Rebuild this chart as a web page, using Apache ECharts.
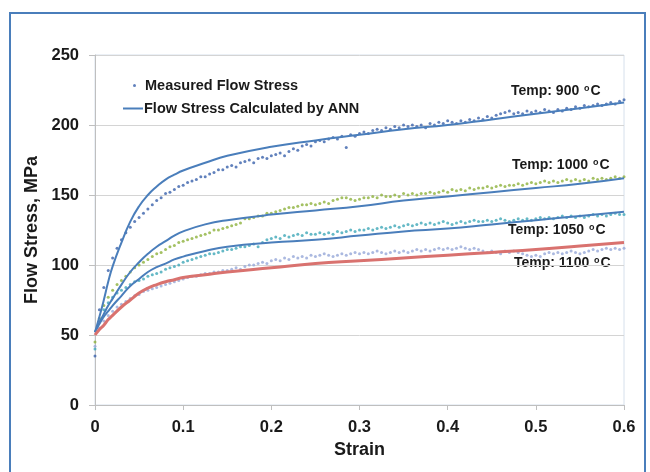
<!DOCTYPE html>
<html lang="en">
<head>
    <meta charset="UTF-8">
    <title>Flow Stress</title>
    <script src="https://cdn.jsdelivr.net/npm/echarts@6/dist/echarts.min.js"></script>
    <style>
        html, body { margin: 0; padding: 0; background: #fff; }
        #main { width: 650px; height: 472px; }
    </style>
</head>
<body>
<div id="main"></div>
<script>
    // measured points are sampled every 0.005 strain, from 0 to 0.6
    var measStep = 0.005;
    var meas900 = [35,68,84,96,105,112,118,123,127,131,134,137,140,143,146,148,151,152,154,156,
        157,159,160,161,163,163,165,166,168,168,170,171,170,173,174,175,173,176,177,176,
        178,179,180,178,181,183,182,185,186,185,188,189,188,190,191,190,192,184,193,192,
        194,195,194,196,197,196,198,197,199,198,200,199,200,199,200,198,201,200,202,201,
        203,202,201,203,202,204,203,205,204,206,205,207,208,209,210,208,209,208,210,209,
        210,209,211,210,209,211,210,212,211,213,212,214,213,214,215,214,215,216,215,217,218];
    var meas1000 = [45,62,71,77,82,86,89,92,95,98,100,102,104,106,108,109,111,113,114,116,
        117,118,119,120,121,122,123,125,125,126,127,128,129,130,133,133,134,135,135,137,
        137,138,139,140,141,141,142,143,143,144,143,144,145,144,146,147,148,148,147,146,
        147,148,148,149,148,150,149,149,150,149,151,150,151,150,151,151,152,151,152,153,
        152,154,153,154,153,155,154,155,155,156,155,156,157,156,157,157,158,157,158,159,
        158,159,160,159,160,159,160,161,160,161,160,161,160,162,161,162,161,162,163,162,163];
    var meas1050 = [40,60,68,73,77,80,82,84,86,88,89,90,92,93,94,95,97,98,99,100,
        102,103,104,105,106,107,108,108,109,110,111,111,112,113,113,114,115,113,116,118,
        119,120,119,121,120,121,122,121,123,122,122,123,122,123,122,124,123,124,125,124,
        125,125,126,125,126,127,126,127,128,127,128,129,128,129,130,129,130,129,130,131,
        130,129,130,131,130,131,132,131,131,132,131,132,133,132,131,132,133,132,133,132,
        133,134,133,134,133,134,135,134,135,134,135,134,135,136,135,136,135,136,137,136,136];
    var meas1100 = [42,55,60,64,67,70,72,74,76,78,79,81,82,83,84,85,86,87,88,89,
        90,91,92,92,93,94,94,95,95,96,96,97,98,97,99,100,100,101,102,101,
        103,104,103,105,104,106,105,106,105,107,106,107,108,107,106,107,108,107,108,109,
        108,109,108,109,110,109,108,109,110,109,110,109,110,111,110,111,110,111,112,111,
        112,111,112,113,112,111,112,111,110,109,110,109,108,110,109,110,109,108,107,106,
        107,106,108,109,108,109,108,109,110,109,108,109,110,111,110,111,112,111,112,111,112];

    // ANN curves
    var annStrain = [0,0.005,0.01,0.015,0.02,0.03,0.04,0.05,0.06,0.07,0.08,0.09,0.1,0.125,0.15,0.2,0.25,0.3,0.35,0.4,0.45,0.5,0.55,0.6];
    var ann900  = [52,63,75,88,99,116,131,142,150,156,161,164.5,167.5,173,178,184.5,189,193,197,200,204,208,212,216];
    var ann1000 = [52,59,65,71,76,86,95,102,108,113,117,121,124,129,132,136,139,142,146,149,152,155,158,162];
    var ann1050 = [52,58,63,67,71,78,85,90,95,98.5,101,104,106,110,113,116,118,121,124,126,129,132,135,138];
    var ann1100 = [50,54,57,61,64,70,75,80,83.5,86,88,89.5,91,93,95,98,101,103,105,107,109,111,113.5,116];

    var tempLabels = ['Temp: 900 {s|o}C', 'Temp: 1000 {s|o}C', 'Temp: 1050 {s|o}C', 'Temp: 1100 {s|o}C'];

    var font = '"Liberation Sans", Arial, sans-serif';

    function pairs(xs, ys) {
        var out = [];
        for (var i = 0; i < ys.length; i++) out.push([xs[i], ys[i]]);
        return out;
    }
    function measPairs(ys) {
        var out = [];
        for (var i = 0; i < ys.length; i++) out.push([+(i * measStep).toFixed(3), ys[i]]);
        return out;
    }
    function measured(data, color) {
        return {
            name: 'Measured Flow Stress',
            type: 'scatter',
            symbol: 'circle',
            symbolSize: 3,
            itemStyle: { color: color },
            data: measPairs(data),
            z: 2
        };
    }
    function ann(data, color, width) {
        return {
            name: 'Flow Stress Calculated by ANN',
            type: 'line',
            smooth: 0.5,
            showSymbol: false,
            lineStyle: { color: color, width: width },
            itemStyle: { color: color },
            data: pairs(annStrain, data),
            z: 3
        };
    }
    function tempText(txt, x, y) {
        return {
            type: 'text',
            left: x,
            top: y,
            style: {
                text: txt,
                font: 'bold 14px ' + font,
                fill: '#1a1a1a',
                rich: {
                    s: { fontSize: 9, fontWeight: 'bold', fontFamily: font, verticalAlign: 'top', padding: [0, 1, 6, 1] }
                }
            }
        };
    }

    var chart = echarts.init(document.getElementById('main'));
    var option = {
        backgroundColor: '#fff',
        animation: false,
        grid: {
            left: 95, right: 26, top: 55, bottom: 67,
            show: true, borderColor: '#d6e0ec', borderWidth: 1
        },
        legend: [
            {
                left: 128, top: 73,
                itemWidth: 3, itemHeight: 3,
                data: [{ name: 'Measured Flow Stress', icon: 'circle' }],
                textStyle: { fontFamily: font, fontWeight: 'bold', fontSize: 14.5, color: '#1a1a1a', padding: [0, 0, 0, 4] }
            },
            {
                left: 118, top: 96,
                itemWidth: 20, itemHeight: 2,
                data: [{ name: 'Flow Stress Calculated by ANN', icon: 'rect' }],
                textStyle: { fontFamily: font, fontWeight: 'bold', fontSize: 14.5, color: '#1a1a1a', padding: [0, 0, 0, -4] }
            }
        ],
        xAxis: {
            type: 'value',
            min: 0, max: 0.6, interval: 0.1,
            name: 'Strain',
            nameLocation: 'middle',
            nameGap: 36,
            nameTextStyle: { fontFamily: font, fontWeight: 'bold', fontSize: 18, color: '#1a1a1a' },
            axisLine: { lineStyle: { color: '#bfbfbf' } },
            axisTick: { show: true, length: 5, lineStyle: { color: '#bfbfbf' } },
            axisLabel: { margin: 14, fontFamily: font, fontWeight: 'bold', fontSize: 16.5, color: '#1a1a1a' },
            splitLine: { show: false }
        },
        yAxis: {
            type: 'value',
            min: 0, max: 250, interval: 50,
            name: 'Flow Stress, MPa',
            nameLocation: 'middle',
            nameGap: 53,
            nameRotate: 90,
            nameTextStyle: { fontFamily: font, fontWeight: 'bold', fontSize: 18, color: '#1a1a1a' },
            axisLine: { show: true, lineStyle: { color: '#bfbfbf' } },
            axisTick: { show: true, length: 6, lineStyle: { color: '#bfbfbf' } },
            axisLabel: { margin: 16, fontFamily: font, fontWeight: 'bold', fontSize: 16.5, color: '#1a1a1a' },
            splitLine: { lineStyle: { color: '#d4d4d4' } }
        },
        graphic: [
            {
                type: 'rect',
                shape: { x: 10, y: 13, width: 635, height: 470 },
                style: { fill: 'none', stroke: '#4a7ebb', lineWidth: 2 },
                silent: true
            },
            tempText(tempLabels[0], 511, 84),
            tempText(tempLabels[1], 512, 158),
            tempText(tempLabels[2], 508, 223),
            tempText(tempLabels[3], 514, 256)
        ],
        series: [
            measured(meas900, '#3a62ab'),
            measured(meas1000, '#8db13c'),
            measured(meas1050, '#3fa7b8'),
            measured(meas1100, '#96a8d8'),
            ann(ann900, '#4a7ebb', 2),
            ann(ann1000, '#4a7ebb', 2),
            ann(ann1050, '#4a7ebb', 2),
            ann(ann1100, '#d9726f', 3)
        ]
    };
    chart.setOption(option);
</script>
</body>
</html>
